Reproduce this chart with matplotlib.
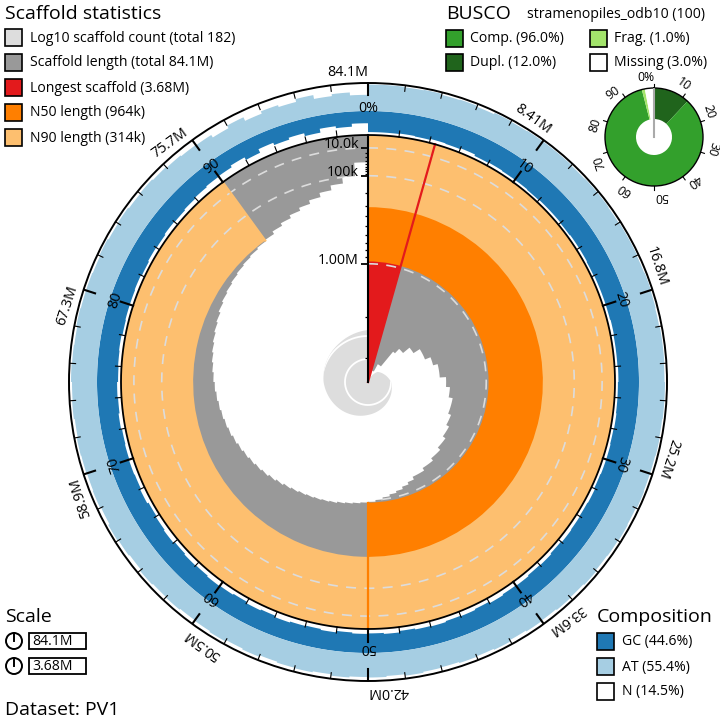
import numpy as np
import matplotlib
matplotlib.use("Agg")
import matplotlib.pyplot as plt
from matplotlib.path import Path
from matplotlib.patches import PathPatch, Rectangle, Circle

plt.rcParams["font.family"] = ["Open Sans", "DejaVu Sans"]

# ------------------------------------------------------------------ data
dataset_name = "PV1"
assembly_span = 84.1e6
scaffold_count = 182
longest_scaffold = 3.68e6
n50_length = 964e3
n90_length = 314e3
gc_total, at_total, n_total = 44.6, 55.4, 14.5

# scaffold length (kb) at each 1 % bin of the assembly (size ordered)
bin_length_kb = [
    3680, 3680, 3680, 3680, 3330, 3330, 3330, 3330, 3100, 3100,
    3100, 2600, 2450, 2450, 2250, 2250, 2080, 2080, 2080, 1950,
    1950, 1850, 1850, 1850, 1720, 1720, 1640, 1640, 1560, 1560,
    1560, 1500, 1500, 1440, 1440, 1380, 1380, 1320, 1320, 1270,
    1270, 1220, 1220, 1170, 1130, 1090, 1060, 1030, 1000, 975,
    964, 950, 935, 920, 900, 885, 870, 855, 840, 820,
    800, 775, 750, 725, 705, 685, 665, 645, 625, 605,
    590, 575, 560, 545, 530, 515, 500, 485, 470, 455,
    440, 425, 405, 390, 378, 366, 355, 345, 335, 322,
    310, 285, 262, 238, 215, 190, 162, 133, 100, 45,
]

# base composition of each 1 % bin (% of bin length)
bin_gc_pct = [
    43, 43, 42, 43, 41, 42, 40, 43, 42, 43,
    43, 44, 43, 43, 44, 43, 43, 44, 43, 43,
    43, 42, 43, 43, 42, 43, 43, 42, 43, 42,
    42, 43, 41, 42, 41, 40, 42, 40, 41, 39,
    40, 38, 41, 39, 40, 38, 39, 41, 38, 40,
    39, 41, 38, 40, 39, 37, 40, 38, 41, 39,
    38, 40, 39, 41, 38, 40, 42, 39, 41, 40,
    41, 42, 40, 42, 41, 43, 42, 41, 43, 42,
    42, 41, 43, 41, 42, 40, 41, 39, 37, 35,
    34, 30, 36, 28, 33, 29, 35, 27, 31, 25,
]
bin_n_pct = [
    3, 3, 5, 3, 7, 5, 9, 3, 5, 3,
    3, 2, 4, 3, 2, 4, 3, 2, 4, 3,
    4, 6, 4, 4, 6, 4, 4, 6, 4, 6,
    6, 4, 8, 6, 8, 10, 6, 10, 8, 12,
    10, 14, 8, 12, 10, 14, 12, 8, 14, 10,
    12, 8, 14, 10, 12, 16, 10, 14, 8, 12,
    14, 10, 12, 8, 14, 10, 6, 12, 8, 10,
    8, 6, 10, 6, 8, 4, 6, 8, 4, 6,
    6, 8, 4, 8, 6, 10, 8, 12, 16, 20,
    22, 32, 20, 36, 26, 34, 22, 38, 30, 42,
]

# cumulative scaffold count read along the assembly (% position)
count_position_pct = [0, 4.4, 8.3, 12, 18, 25, 37, 50, 62, 75, 85, 90, 95, 100]
count_cumulative = [1, 1, 2, 4, 6, 10, 16, 27, 48, 85, 110, 125, 150, 182]

busco_lineage = "stramenopiles_odb10"
busco_n = 100
busco_complete = 96.0
busco_duplicated = 12.0
busco_fragmented = 1.0
busco_missing = 3.0

radial_major = [1e4, 1e5, 1e6]
radial_major_labels = ["10.0k", "100k", "1.00M"]
radial_minor = [2e4, 3e4, 4e4, 5e4, 6e4, 7e4, 8e4, 9e4,
                2e5, 3e5, 4e5, 5e5, 6e5, 7e5, 8e5, 9e5, 2e6, 3e6]

# ------------------------------------------------------------------ style
C_COUNT = "#dddddd"
C_LEN = "#999999"
C_LONG = "#e31a1c"
C_N50 = "#ff7f00"
C_N90 = "#fdbf6f"
C_GC = "#1f78b4"
C_AT = "#a6cee3"
C_COMP = "#33a02c"
C_DUPL = "#20641c"
C_FRAG = "#a3e46b"

CX, CY = 368, 382          # plot centre (px)
R_OUT, R_IN, R_MID = 299, 247, 271
W_COMP = 49
RC = 52
FS_T, FS_L, FS_TK = 14, 10.1, 10.3

fig = plt.figure(figsize=(7.2, 7.2), dpi=100)
ov = fig.add_axes([0, 0, 1, 1])
ov.set_xlim(0, 720)
ov.set_ylim(720, 0)
ov.axis("off")

ax = fig.add_axes([(CX - R_OUT) / 720, (720 - CY - R_OUT) / 720,
                   2 * R_OUT / 720, 2 * R_OUT / 720], projection="polar")
ax.set_theta_zero_location("N")
ax.set_theta_direction(-1)
ax.set_ylim(0, R_OUT)
ax.set_xticks([])
ax.set_yticks([])
ax.grid(False)
ax.set_facecolor("none")
ax.spines["polar"].set_linewidth(1.4)


def th(p):
    return 2 * np.pi * np.asarray(p, dtype=float) / 100.0


def rad(length):
    return R_IN * (1 - np.sqrt(np.asarray(length, dtype=float) / longest_scaffold))


def band_path(edges, lo, hi, steps=8):
    verts = []
    n = len(lo)
    for i in range(n):
        verts += [(edges[i], hi[i]), (edges[i + 1], hi[i])]
    for i in reversed(range(n)):
        verts += [(edges[i + 1], lo[i]), (edges[i], lo[i])]
    verts.append(verts[0])
    codes = [Path.MOVETO] + [Path.LINETO] * (len(verts) - 2) + [Path.CLOSEPOLY]
    return Path(verts, codes, _interpolation_steps=steps)


nb = len(bin_length_kb)
edges = th(np.arange(nb + 1) * 100.0 / nb)
full = np.linspace(0, 2 * np.pi, 721)

# log10 scaffold count spiral
rc = RC * np.log10(count_cumulative) / np.log10(scaffold_count)
sv = [(0.0, 0.0)] + list(zip(th(count_position_pct), rc)) + [(2 * np.pi, 0.0), (0.0, 0.0)]
sc = [Path.MOVETO] + [Path.LINETO] * (len(sv) - 2) + [Path.CLOSEPOLY]
spiral = PathPatch(Path(sv, sc, _interpolation_steps=30), facecolor=C_COUNT,
                   edgecolor="none", zorder=1)
ax.add_patch(spiral)
for k in (1, 2):
    ln, = ax.plot(full, np.full_like(full, RC * k / np.log10(scaffold_count)),
                  color="white", lw=1.3, zorder=1.5)
    ln.set_clip_path(spiral)

# scaffold length distribution
lo = rad(np.array(bin_length_kb) * 1e3)
gray = PathPatch(band_path(edges, lo, np.full(nb, R_IN)), facecolor=C_LEN,
                 edgecolor="none", zorder=2)
ax.add_patch(gray)

# longest scaffold, N50, N90
ax.bar(0, R_IN, width=th(100 * longest_scaffold / assembly_span), bottom=0,
       align="edge", color=C_LONG, lw=0, zorder=3)
ax.bar(0, R_IN - rad(n50_length), width=th(50), bottom=rad(n50_length),
       align="edge", color=C_N50, lw=0, zorder=4)
ax.bar(0, R_IN - rad(n90_length), width=th(90), bottom=rad(n90_length),
       align="edge", color=C_N90, lw=0, zorder=5)

# dashed scale circles
for v in radial_major:
    ln, = ax.plot(full, np.full_like(full, rad(v)), color="#dcdcdc", lw=1.2,
                  ls=(0, (6, 5)), zorder=6)
    ln.set_clip_path(gray)

t_long = th(100 * longest_scaffold / assembly_span)
ax.plot([t_long, t_long], [0, R_IN], color=C_LONG, lw=1.6, zorder=7)
ax.plot([th(50), th(50)], [rad(n50_length), R_IN], color=C_N50, lw=1.6, zorder=7)
ax.plot([th(90), th(90)], [rad(n90_length), R_IN], color=C_N90, lw=1.6, zorder=7)

# composition ring
gc = np.array(bin_gc_pct) / 100.0
nn = np.array(bin_n_pct) / 100.0
at = 1 - gc - nn
ax.add_patch(PathPatch(band_path(edges, R_MID - gc * W_COMP, np.full(nb, R_MID)),
                       facecolor=C_GC, edgecolor="none", zorder=3))
ax.add_patch(PathPatch(band_path(edges, np.full(nb, R_MID), R_MID + at * W_COMP),
                       facecolor=C_AT, edgecolor="none", zorder=3))

# inner circle and radial axis
ax.plot(full, np.full_like(full, R_IN), color="black", lw=1.3, zorder=8)
ax.plot([0, 0], [0, R_IN], color="black", lw=1.5, zorder=9)

tick_path = Path([(-1, 0), (0, 0)], [Path.MOVETO, Path.LINETO])
ax.plot(np.zeros(len(radial_major)), rad(radial_major), ls="none", marker=tick_path,
        ms=10, mew=1.3, mec="black", zorder=9, clip_on=False)
ax.plot(np.zeros(len(radial_minor)), rad(radial_minor), ls="none", marker=tick_path,
        ms=5, mew=0.9, mec="black", zorder=9, clip_on=False)
for v, lab in zip(radial_major, radial_major_labels):
    ax.annotate(lab, xy=(0, rad(v)), xytext=(-6.5, 0), textcoords="offset points",
                ha="right", va="baseline", fontsize=FS_TK, zorder=10)

# circumferential ticks
for p in range(0, 100, 2):
    t = th(p)
    major = p % 10 == 0
    if p > 0:
        ax.plot([t, t], [R_IN, R_IN + (13 if major else 6)], color="black",
                lw=1.5 if major else 0.8, zorder=9)
    ax.plot([t, t], [R_OUT, R_OUT - (12 if major else 6)], color="black",
            lw=1.5 if major else 0.8, zorder=9)
for p in range(10, 100, 10):
    ax.text(th(p), 266, str(p), rotation=-3.6 * p, rotation_mode="anchor",
            ha="center", va="center", fontsize=FS_TK, zorder=10)
ax.text(0, 273, "0%", ha="center", va="center", fontsize=FS_TK, zorder=10)


def fmt_span(v):
    m = v / 1e6
    d = max(0, 3 - len(str(int(m))))
    return f"{m:.{d}f}M"


for p in range(10, 101, 10):
    ax.text(th(p), R_OUT + 3, fmt_span(assembly_span * p / 100), rotation=-3.6 * p % 360,
            rotation_mode="anchor", ha="right", va="bottom", fontsize=FS_TK, zorder=10)

# ------------------------------------------------------------------ BUSCO donut
BX, BY, BR, BH = 654, 137, 49, 18
bx = fig.add_axes([(BX - BR) / 720, (720 - BY - BR) / 720, 2 * BR / 720, 2 * BR / 720],
                  projection="polar")
bx.set_theta_zero_location("N")
bx.set_theta_direction(-1)
bx.set_ylim(0, BR)
bx.set_xticks([])
bx.set_yticks([])
bx.grid(False)
bx.set_facecolor("none")
bx.spines["polar"].set_linewidth(1.0)
b_vals = [busco_duplicated, busco_complete - busco_duplicated, busco_fragmented, busco_missing]
b_cols = [C_DUPL, C_COMP, C_FRAG, "white"]
start = 0.0
for v, c in zip(b_vals, b_cols):
    bx.bar(th(start), BR - BH, width=th(v), bottom=BH, align="edge", color=c, lw=0)
    start += v
bx.plot([0, 0], [0, BR], color="#aaaaaa", lw=1.5, zorder=5)
for p in range(0, 100, 10):
    bx.plot([th(p), th(p)], [BR, BR + 4], color="black", lw=0.8, clip_on=False)
    bx.text(th(p), BR + 4, "0%" if p == 0 else str(p), rotation=-3.6 * p,
            rotation_mode="anchor", ha="right", va="bottom", fontsize=8.8)

# ------------------------------------------------------------------ legends
def square(x, yc, color, size=17):
    ov.add_patch(Rectangle((x, yc - size / 2), size, size, facecolor=color,
                           edgecolor="black", lw=1.2))


ov.text(5, 19, "Scaffold statistics", fontsize=FS_T, va="baseline")
leg = [
    (C_COUNT, f"Log10 scaffold count (total {scaffold_count})"),
    (C_LEN, f"Scaffold length (total {assembly_span / 1e6:.1f}M)"),
    (C_LONG, f"Longest scaffold ({longest_scaffold / 1e6:.2f}M)"),
    (C_N50, f"N50 length ({n50_length / 1e3:.0f}k)"),
    (C_N90, f"N90 length ({n90_length / 1e3:.0f}k)"),
]
for i, (c, lab) in enumerate(leg):
    yc = 37 + 25 * i
    square(5, yc, c)
    ov.text(30, yc + 1, lab, fontsize=FS_L, va="center")

ov.text(446, 19, "BUSCO", fontsize=FS_T, va="baseline")
ov.text(527, 18, f"{busco_lineage} ({busco_n})", fontsize=FS_L, va="baseline")
busco_leg = [
    (446, 38, C_COMP, f"Comp. ({busco_complete:.1f}%)"),
    (446, 62, C_DUPL, f"Dupl. ({busco_duplicated:.1f}%)"),
    (590, 38, C_FRAG, f"Frag. ({busco_fragmented:.1f}%)"),
    (590, 62, "white", f"Missing ({busco_missing:.1f}%)"),
]
for x, yc, c, lab in busco_leg:
    square(x, yc, c)
    ov.text(x + 24, yc + 1, lab, fontsize=FS_L, va="center")

ov.text(5, 622, "Scale", fontsize=FS_T, va="baseline")
for yc, lab in [(641, fmt_span(assembly_span)), (666, f"{longest_scaffold / 1e6:.2f}M")]:
    ov.add_patch(Circle((14, yc), 8, fill=False, edgecolor="black", lw=1.4))
    ov.plot([14, 14], [yc, yc - 8], color="black", lw=1.4)
    ov.add_patch(Rectangle((29, yc - 8), 57, 16, fill=False, edgecolor="black", lw=1.3))
    ov.text(32, yc + 0.5, lab, fontsize=FS_L, va="center")
ov.text(5, 715, f"Dataset: {dataset_name}", fontsize=FS_T, va="baseline")

ov.text(597, 622, "Composition", fontsize=FS_T, va="baseline")
comp_leg = [(C_GC, f"GC ({gc_total:.1f}%)"), (C_AT, f"AT ({at_total:.1f}%)"),
            ("white", f"N ({n_total:.1f}%)")]
for i, (c, lab) in enumerate(comp_leg):
    yc = 641 + 25 * i
    square(597, yc, c)
    ov.text(622, yc + 1, lab, fontsize=FS_L, va="center")

fig.savefig("out.png", dpi=100, facecolor="white")
